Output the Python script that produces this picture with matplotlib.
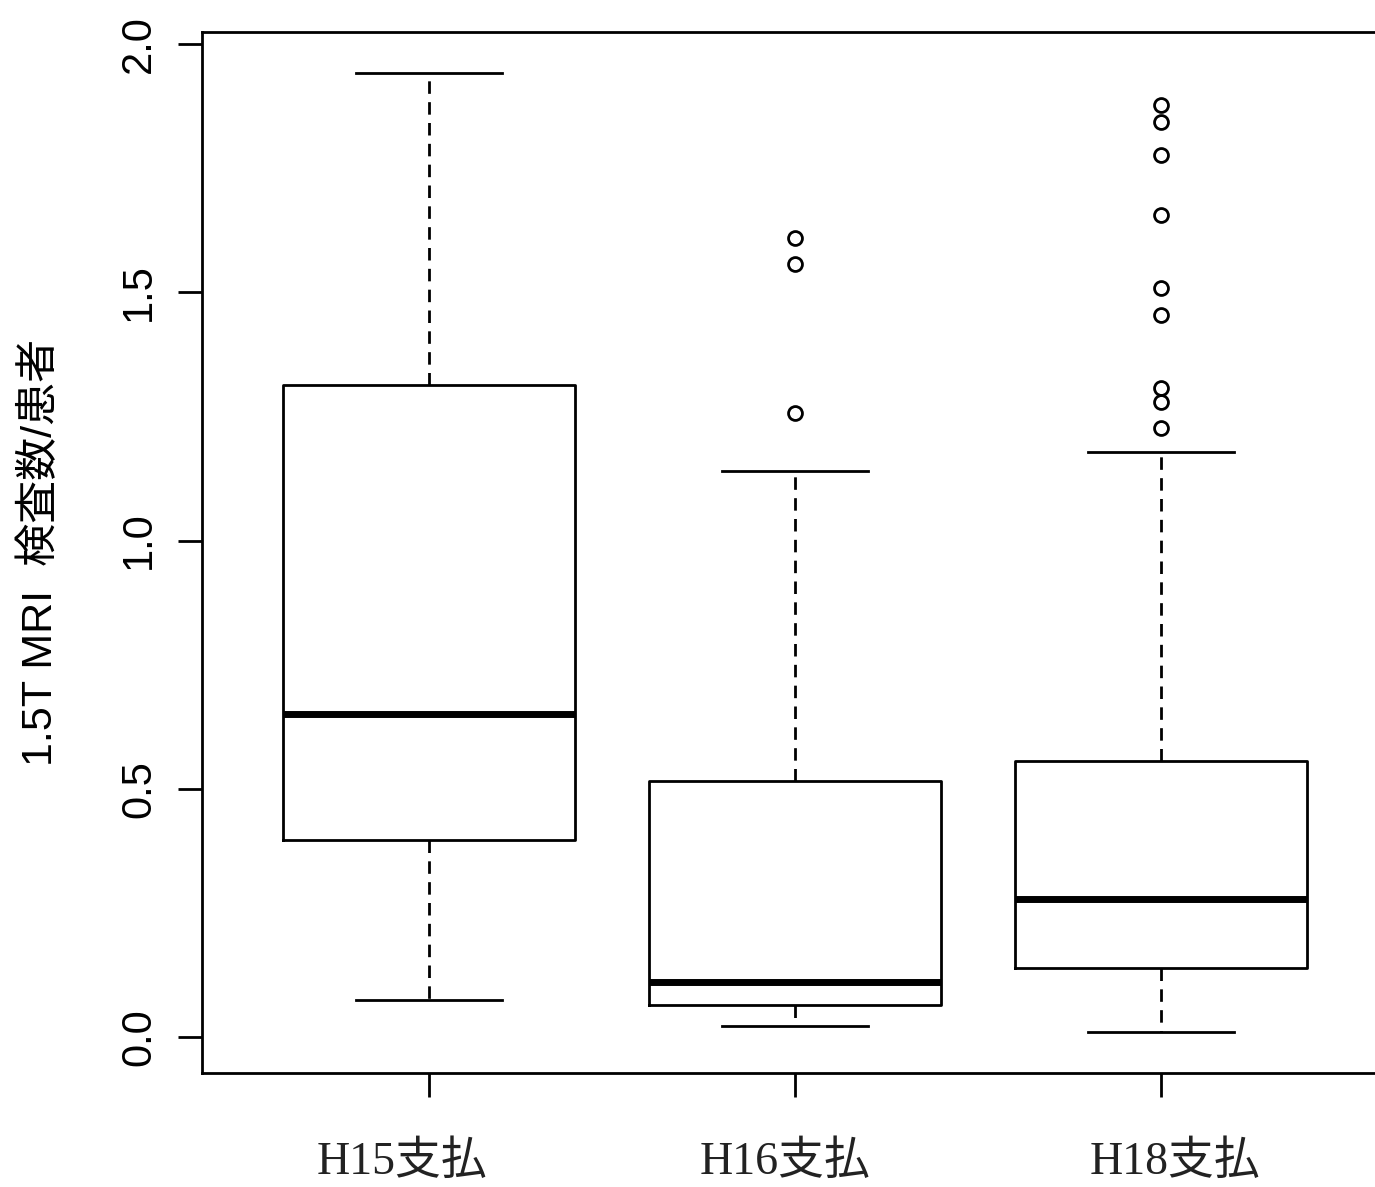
import matplotlib.pyplot as plt
from matplotlib.transforms import ScaledTranslation

# === Data ===
groups = ["H15支払", "H16支払", "H18支払"]
whislo = [0.075, 0.022, 0.010]
q1 = [0.397, 0.064, 0.139]
med = [0.651, 0.111, 0.278]
q3 = [1.313, 0.516, 0.556]
whishi = [1.942, 1.140, 1.178]
fliers = [
    [],
    [1.609, 1.557, 1.257],
    [1.877, 1.843, 1.776, 1.656, 1.509, 1.454, 1.307, 1.279, 1.227],
]
label_shift_px = [-27, -10, 14]   # x labels sit a bit off their ticks

# === Figure ===
fig = plt.figure(figsize=(13.75, 11.87), dpi=100)
ax = fig.add_axes([0.1469, 0.0960, 0.8625, 0.8770])

stats = []
for i in range(len(groups)):
    stats.append(dict(label=groups[i], whislo=whislo[i], q1=q1[i], med=med[i],
                      q3=q3[i], whishi=whishi[i], fliers=fliers[i]))

lw = 2.0
ax.bxp(stats, positions=[1, 2, 3], widths=0.8, showfliers=True,
       boxprops=dict(color="black", linewidth=lw),
       medianprops=dict(color="black", linewidth=5, solid_capstyle="butt"),
       whiskerprops=dict(color="black", linewidth=lw, linestyle=(0, (4.5, 3))),
       capprops=dict(color="black", linewidth=lw),
       capwidths=0.4,
       flierprops=dict(marker="o", markerfacecolor="none", markeredgecolor="black",
                       markersize=10, markeredgewidth=2.0, linestyle="none"))

ax.set_xlim(0.38, 3.62)
ax.set_ylim(-0.0725, 2.024)

for s in ax.spines.values():
    s.set_linewidth(lw)

ax.set_yticks([0.0, 0.5, 1.0, 1.5, 2.0])
ax.set_yticklabels(["0.0", "0.5", "1.0", "1.5", "2.0"], rotation=90, va="center",
                   family=["Liberation Sans", "DejaVu Sans"], fontsize=30)
ax.tick_params(axis="y", length=17, width=lw, pad=14)

ax.set_xticks([1, 2, 3])
ax.set_xticklabels(groups, family=["Liberation Serif", "Noto Sans CJK JP"],
                   fontsize=33, color="#222222")
ax.tick_params(axis="x", length=17, width=lw, pad=32)
for lbl, dx in zip(ax.get_xticklabels(), label_shift_px):
    lbl.set_transform(lbl.get_transform() + ScaledTranslation(dx / 100, 0, fig.dpi_scale_trans))

ax.set_ylabel("1.5T MRI  検査数/患者", family=["Liberation Sans", "Noto Sans CJK JP"],
              fontsize=31, labelpad=42)

fig.savefig("out.png", dpi=100)
